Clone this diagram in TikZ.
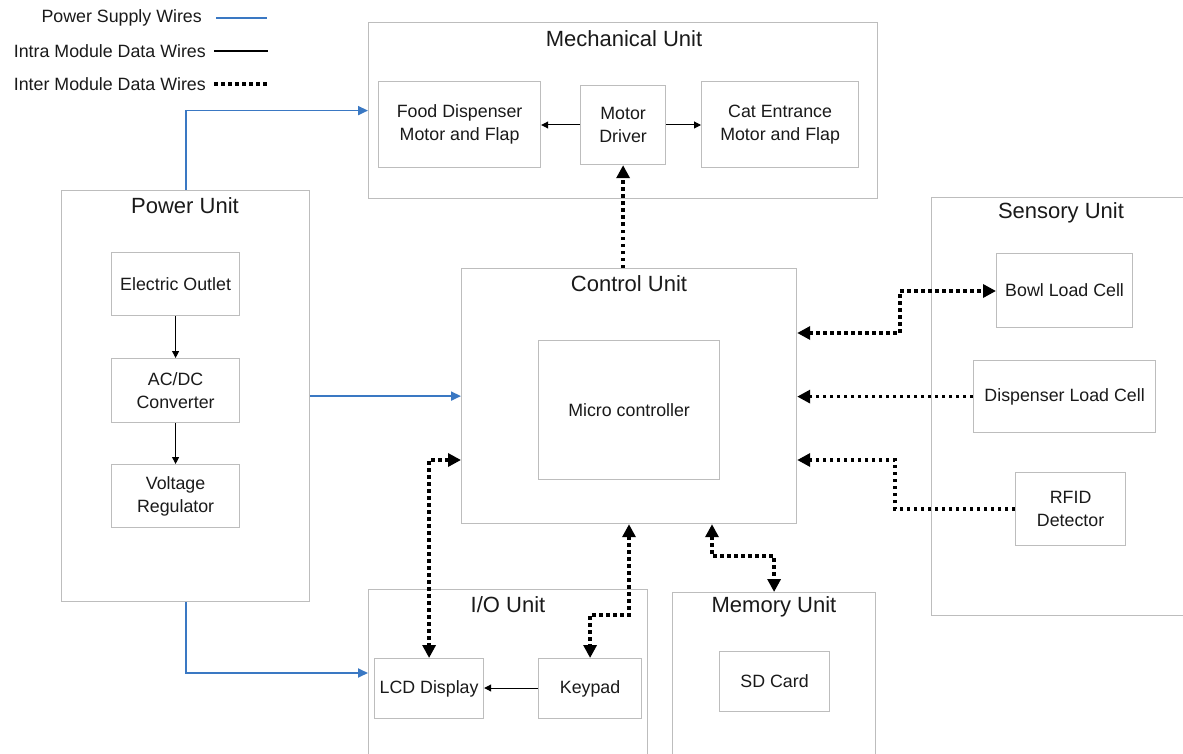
\documentclass[tikz,border=0pt]{standalone}
\usepackage{fontspec}
\setmainfont{Liberation Sans}
\usetikzlibrary{arrows.meta}
\definecolor{boxgray}{HTML}{BDBDBD}
\definecolor{wireblue}{HTML}{3A78C3}
\definecolor{txt}{HTML}{1A1A1A}
\begin{document}
\begin{tikzpicture}[x=1pt,y=-1pt,
  box/.style={draw=boxgray, line width=1.2pt, anchor=north west, inner sep=0pt,
    text=txt, font=\fontsize{17.8}{23}\selectfont, align=center},
  unitbox/.style={draw=boxgray, line width=1.2pt, anchor=north west, inner sep=0pt},
  unittitle/.style={text=txt, font=\fontsize{22}{24}\selectfont, inner sep=0pt},
  legtext/.style={text=txt, font=\fontsize{17.8}{20}\selectfont, inner sep=0pt, anchor=east},
  power/.style={draw=wireblue, line width=1.8pt, -{Triangle[length=10pt,width=9pt]}},
  intra/.style={draw=black, line width=1pt, -{Triangle[length=7pt,width=7pt]}},
  inter/.style={draw=black, line width=3.6pt, dash pattern=on 3.5pt off 3.5pt},
  oneway/.style={inter, -{Triangle[length=13pt,width=13pt]}},
  twoway/.style={inter, {Triangle[length=13pt,width=13pt]}-{Triangle[length=13pt,width=13pt]}}
]
\useasboundingbox[fill=white] (0,0) rectangle (1183,754);

% Legend
\node[legtext] (lg1) at (202,18) {Power Supply Wires};
\node[legtext] (lg2) at (206,51) {Intra Module Data Wires};
\node[legtext] (lg3) at (206,84) {Inter Module Data Wires};
\coordinate (lg1a) at (216,18); \coordinate (lg1b) at (267,18);
\coordinate (lg2a) at (214,51); \coordinate (lg2b) at (268,51);
\coordinate (lg3a) at (214,84); \coordinate (lg3b) at (268,84);
\draw[draw=wireblue, line width=1.8pt] (lg1a) -- (lg1b);
\draw[draw=black, line width=1.6pt] (lg2a) -- (lg2b);
\draw[inter] (lg3a) -- (lg3b);

% Mechanical Unit
\node[unitbox, minimum width=509pt, minimum height=176pt] (mech) at (368,22) {};
\node[unittitle] (mecht) at (624,39) {Mechanical Unit};
\node[box, minimum width=162pt, minimum height=86pt] (food) at (378,81) {Food Dispenser\\Motor and Flap};
\node[box, minimum width=85pt, minimum height=79pt] (motor) at (580,85) {Motor\\Driver};
\node[box, minimum width=157pt, minimum height=86pt] (cat) at (701,81) {Cat Entrance\\Motor and Flap};

% Power Unit
\node[unitbox, minimum width=248pt, minimum height=411pt] (power) at (61,190) {};
\node[unittitle] (powert) at (185,206) {Power Unit};
\node[box, minimum width=128pt, minimum height=63pt] (outlet) at (111,252) {Electric Outlet};
\node[box, minimum width=128pt, minimum height=64pt] (acdc) at (111,358) {AC/DC\\Converter};
\node[box, minimum width=128pt, minimum height=63pt] (vreg) at (111,464) {Voltage\\Regulator};

% Control Unit
\node[unitbox, minimum width=335pt, minimum height=255pt] (ctrl) at (461,268) {};
\node[unittitle] (ctrlt) at (629,284) {Control Unit};
\node[box, minimum width=181pt, minimum height=139pt] (mcu) at (538,340) {Micro controller};

% Sensory Unit
\node[unitbox, minimum width=270pt, minimum height=418pt] (sens) at (931,197) {};
\node[unittitle] (senst) at (1061,213) {Sensory Unit};
\node[box, minimum width=136pt, minimum height=74pt] (bowl) at (996,253) {Bowl Load Cell};
\node[box, minimum width=182pt, minimum height=72pt] (disp) at (973,360) {Dispenser Load Cell};
\node[box, minimum width=110pt, minimum height=73pt] (rfid) at (1015,472) {RFID\\Detector};

% I/O Unit
\node[unitbox, minimum width=279pt, minimum height=175pt] (io) at (368,589) {};
\node[unittitle] (iot) at (508,605) {I/O Unit};
\node[box, minimum width=109pt, minimum height=60pt] (lcd) at (374,658) {LCD Display};
\node[box, minimum width=103pt, minimum height=60pt] (keypad) at (538,658) {Keypad};

% Memory Unit
\node[unitbox, minimum width=203pt, minimum height=172pt] (mem) at (672,592) {};
\node[unittitle] (memt) at (774,607) {Memory Unit};
\node[box, minimum width=110pt, minimum height=60pt] (sd) at (719,651) {SD Card};

% Power wires
\draw[power] (power.north) |- (mech.west);
\draw[power] (power.east) -- (ctrl.west);
\draw[power] (power.south) |- (io.west |- 0,673);

% Intra module wires
\draw[intra] (outlet.south) -- (acdc.north);
\draw[intra] (acdc.south) -- (vreg.north);
\draw[intra] (motor.west |- 0,125) -- (food.east |- 0,125);
\draw[intra] (motor.east |- 0,125) -- (cat.west |- 0,125);
\draw[intra] (keypad.west |- 0,688) -- (lcd.east |- 0,688);

% Inter module wires
\draw[oneway] (motor.south |- ctrl.north) -- (motor.south);
\draw[twoway] (ctrl.east |- 0,333) -| (900,291) -- (bowl.west |- 0,291);
\draw[oneway] (disp.west) -- (ctrl.east |- disp.west);
\draw[oneway] (rfid.west) -| (895,460) -- (ctrl.east |- 0,460);
\draw[twoway] (ctrl.west |- 0,460) -| (lcd.north);
\draw[twoway] (ctrl.south -| 629,0) -- (629,615) -| (keypad.north);
\draw[twoway] (ctrl.south -| 712,0) -- (712,556) -| (mem.north);
\end{tikzpicture}
\end{document}
